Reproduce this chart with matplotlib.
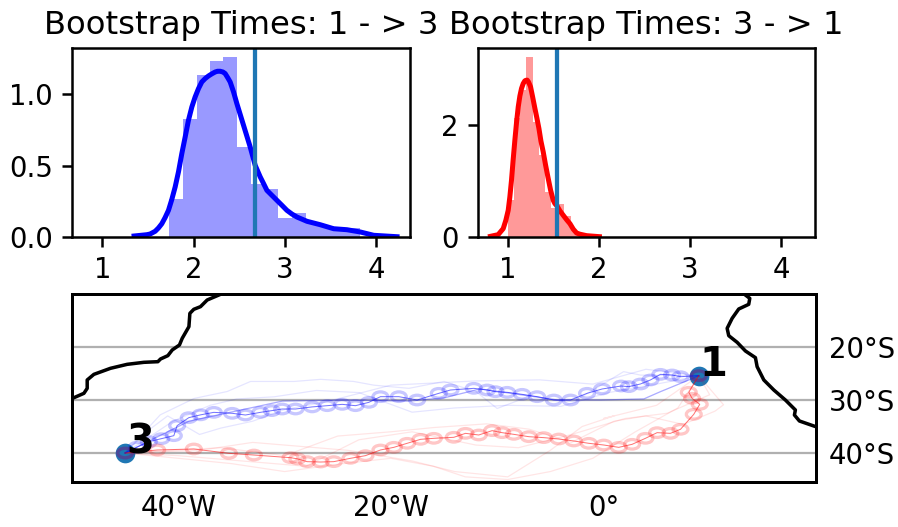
import matplotlib
matplotlib.use('Agg')
import matplotlib.pyplot as plt
from matplotlib.patches import Ellipse
import numpy as np

W, H, DPI = 898, 527, 180

# histogram 1 -> 3
edges_a = [1.731, 1.881, 2.032, 2.176, 2.326, 2.476, 2.626, 2.776, 2.929, 3.079, 3.233, 3.379, 3.533, 3.676, 3.826]
heights_a = [0.264, 0.83, 1.133, 1.231, 1.26, 0.628, 0.369, 0.334, 0.131, 0.166, 0.10, 0.075, 0.062, 0.062]
kde_a_x = [1.347, 1.486, 1.523, 1.578, 1.614, 1.651, 1.687, 1.724, 1.760, 1.797, 1.834, 1.870, 1.907, 1.943, 1.980, 2.016,
           2.053, 2.089, 2.126, 2.162, 2.199, 2.236, 2.261, 2.290, 2.320, 2.345, 2.374, 2.400, 2.437, 2.473,
           2.546, 2.619, 2.674, 2.729, 2.766, 2.802, 2.912, 2.967, 3.021, 3.076, 3.131, 3.241, 3.387, 3.533, 3.679, 3.826, 3.972, 4.228]
kde_a_y = [.007, .016, .021, .040, .063, .093, .136, .187, .262, .350, .458, .584, .701, .818, .911, .981,
           1.04, 1.086, 1.110, 1.128, 1.143, 1.156, 1.161, 1.161, 1.156, 1.145, 1.115, 1.086, 1.016, .935,
           .783, .631, .502, .421, .374, .327, .257, .222, .187, .161, .140, .110, .086, .058, .051, .035, .012, .002]
vline_a = 2.671

# histogram 3 -> 1
edges_b = [1.000, 1.066, 1.132, 1.198, 1.271, 1.341, 1.410, 1.476, 1.549, 1.615, 1.688, 1.754, 1.828]
heights_b = [0.659, 2.13, 2.63, 3.23, 2.07, 1.47, 0.80, 0.52, 0.587, 0.37, 0.12, 0.05]
kde_b_x = [.809, .894, .949, .978, 1.004, 1.022, 1.040, 1.058, 1.077, 1.095, 1.114, 1.132, 1.150, 1.168, 1.187, 1.198, 1.212,
           1.227, 1.249, 1.271, 1.297, 1.319, 1.341, 1.363, 1.388, 1.414, 1.443, 1.469,
           1.498, 1.516, 1.542, 1.571, 1.608, 1.645, 1.681, 1.718, 1.754, 1.791, 1.864, 2.004]
kde_b_y = [.012, .042, .150, .30, .479, .72, 1.018, 1.38, 1.737, 2.05, 2.335, 2.53, 2.665, 2.75, 2.802, 2.81, 2.814,
           2.78, 2.695, 2.52, 2.305, 2.13, 1.946, 1.72, 1.527, 1.29, 1.048, .84,
           .659, .60, .551, .47, .389, .31, .240, .14, .072, .05, .024, .006]
vline_b = 1.538

# coastlines
sa_lon = [-49.95, -48.88, -48.57, -48.57, -47.94, -46.38, -44.81, -43.24, -41.92, -41.67, -40.98, -40.57, -39.89, -39.63,
          -39.0, -38.91, -38.54, -37.91, -37.28, -36.03]
sa_lat = [-29.68, -28.74, -27.80, -26.22, -25.16, -24.02, -23.27, -22.89, -22.77, -22.26, -21.63, -20.56, -19.62, -18.36,
          -16.16, -13.65, -12.89, -12.39, -11.13, -10.06]
af_lon = [13.27, 13.77, 13.67, 12.73, 12.11, 11.64, 11.79, 12.58, 13.36, 14.30, 14.46, 15.09, 16.03, 17.12, 18.06, 17.97,
          18.44, 19.79]
af_lat = [-10.06, -10.82, -11.95, -12.83, -14.59, -16.48, -17.86, -19.12, -20.75, -22.01, -23.71, -26.22, -28.11, -30.0,
          -31.88, -32.83, -33.96, -34.9]

# end points
site_lon = [8.97, -45.0]
site_lat = [-25.45, -40.0]
site_names = ['1', '3']

# main tracks
blue_lon = [8.97, 7.25, 6.46, 5.36, 4.42, 3.48, 2.39, 1.66, -0.12, -1.54, -3.10, -4.67, -6.24, -7.65, -9.06, -10.16,
            -10.94, -12.20, -14.39, -15.49, -17.53, -19.25, -20.98, -22.07, -23.33, -24.58, -25.99, -27.4, -28.97, -30.23,
            -31.2, -32.27, -33.68, -34.93, -36.66, -37.9, -39.01, -40.11, -40.42, -41.6, -42.77, -43.9, -45.0]
blue_lat = [-25.41, -25.6, -25.28, -25.16, -26.22, -26.98, -27.48, -27.36, -27.92, -28.74, -30.0, -30.0, -29.37, -28.93,
            -28.55, -28.43, -28.11, -27.80, -28.11, -28.74, -30.0, -29.37, -29.37, -30.44, -31.07, -30.82, -31.07, -31.3,
            -31.70, -31.70, -32.0, -32.33, -32.83, -32.51, -32.33, -32.8, -33.33, -34.84, -36.73, -37.3, -37.86, -38.9, -40.0]
red_lon = [8.97, 8.03, 8.34, 9.06, 8.50, 7.25, 6.30, 5.05, 3.95, 2.70, 1.44, 0.03, -1.38, -2.79, -4.2, -5.61, -7.02,
           -8.43, -9.53, -10.47, -11.73, -12.98, -14.08, -15.96, -17.21, -18.47, -19.72, -20.98, -22.39, -23.8,
           -25.37, -26.6, -27.88, -28.8, -29.44, -32.89, -35.24, -38.54, -41.99, -45.0]
red_lat = [-25.41, -28.55, -29.68, -30.82, -32.70, -35.53, -36.29, -36.16, -37.23, -38.36, -38.93, -38.49, -38.17,
           -37.73, -37.36, -37.1, -36.92, -36.48, -36.16, -35.78, -36.6, -36.29, -37.04, -37.23, -37.42, -38.17,
           -38.93, -39.43, -40.5, -41.0, -41.63, -41.7, -41.63, -41.1, -40.88, -40.38, -40.06, -39.24, -39.43, -40.0]

# fainter bootstrap tracks
blue_extra = [
    ([8.97, 5.36, 3.8, -0.28, -4.3, -7.8, -11.6, -15.0, -18.3, -24.0, -30.2, -39.0, -41.0, -45.0],
     [-25.45, -28.43, -29.8, -30.0, -30.0, -29.0, -27.9, -29.6, -30.2, -30.0, -30.2, -34.0, -36.0, -40.0]),
    ([8.97, 3.5, 1.9, -2.8, -7.5, -10.0, -12.0, -15.0, -18.3, -21.6, -23.5, -26.6, -29.1, -33.2, -35.4, -38.5, -41.7, -45.0],
     [-25.45, -25.3, -24.65, -30.3, -29.7, -31.6, -28.4, -26.5, -27.8, -27.2, -26.5, -26.1, -26.5, -26.5, -28.4, -29.7, -32.8, -40.0]),
    ([8.97, 5.0, 0.5, -4.0, -9.0, -14.0, -18.0, -23.0, -27.0, -31.0, -34.5, -37.0, -40.5, -45.0],
     [-25.45, -27.0, -28.6, -31.2, -31.0, -31.5, -32.3, -28.6, -28.2, -29.4, -29.8, -31.0, -34.0, -40.0]),
    ([8.97, 4.0, -1.0, -6.0, -12.0, -20.0, -26.0, -30.0, -33.0, -36.0, -38.0, -41.0, -43.0, -45.0],
     [-25.45, -24.2, -27.0, -26.2, -26.4, -27.2, -30.3, -31.8, -34.0, -35.3, -36.5, -33.0, -36.0, -40.0]),
]
red_extra = [
    ([8.97, 11.3, 10.5, 7.5, 4.0, 1.0, -3.0, -7.0, -11.0, -16.0, -20.0, -25.0, -30.0, -36.0, -45.0],
     [-25.45, -30.9, -32.1, -34.6, -33.0, -34.0, -38.0, -35.5, -34.5, -35.2, -36.0, -36.8, -40.5, -39.0, -40.0]),
    ([8.97, 5.0, 0.0, 1.0, -2.0, -5.0, -9.0, -14.0, -18.0, -24.0, -27.0, -33.0, -38.0, -45.0],
     [-25.45, -31.0, -33.5, -33.0, -35.0, -39.5, -44.5, -43.5, -41.5, -39.5, -39.0, -38.0, -39.5, -40.0]),
    ([8.97, 7.0, 3.0, -1.0, -5.0, -9.0, -13.0, -16.0, -20.0, -24.5, -30.0, -35.0, -40.0, -45.0],
     [-25.45, -31.5, -36.0, -41.0, -43.5, -45.0, -44.5, -42.5, -41.0, -42.0, -43.5, -42.0, -41.0, -40.0]),
    ([8.97, 10.0, 6.0, 2.0, -3.0, -8.0, -12.0, -18.0, -23.0, -28.0, -34.0, -40.0, -45.0],
     [-25.45, -29.0, -32.5, -33.5, -36.5, -39.0, -38.5, -36.0, -37.5, -42.5, -41.5, -40.5, -40.0]),
]

grid_lats = [-20, -30, -40]
lon_ticks = [-40, -20, 0]
lon_labels = ['40°W', '20°W', '0°']
lat_labels = ['20°S', '30°S', '40°S']

plt.rcParams['axes.linewidth'] = 1.0
plt.rcParams['xtick.major.width'] = 1.0
plt.rcParams['ytick.major.width'] = 1.0
plt.rcParams['xtick.major.size'] = 4
plt.rcParams['ytick.major.size'] = 4


def px_axes(fig, left, top, right, bottom):
    return fig.add_axes([left / W, 1 - bottom / H, (right - left) / W, (bottom - top) / H])


def draw_dist(ax, edges, heights, kx, ky, vline, color, title):
    edges = np.array(edges)
    ax.bar(edges[:-1], heights, np.diff(edges), align='edge', color=color, alpha=0.4, linewidth=0)
    ax.plot(kx, ky, color=color, lw=2.0, solid_joinstyle='round')
    ax.axvline(vline, color='C0', lw=1.7)
    ax.set_xlim(0.667, 4.37)
    ax.set_xticks([1, 2, 3, 4])
    ax.tick_params(labelsize=11)
    ax.set_title(title, fontsize=12.9, pad=5.5)


def draw_track(ax, lon, lat, color):
    for x, y in zip(lon, lat):
        ax.add_patch(Ellipse((x, y), 1.4, 1.8, fill=False, edgecolor=color, alpha=0.22, lw=1.3, zorder=3))
    ax.plot(lon, lat, color=color, lw=0.4, alpha=0.55, zorder=4)


fig = plt.figure(figsize=(W / DPI, H / DPI), dpi=DPI)

ax1 = px_axes(fig, 72, 48, 410, 237)
draw_dist(ax1, edges_a, heights_a, kde_a_x, kde_a_y, vline_a, 'blue', 'Bootstrap Times: 1 - > 3')
ax1.set_ylim(0, 1.324)
ax1.set_yticks([0, 0.5, 1.0])

ax2 = px_axes(fig, 477.5, 48, 815, 237)
draw_dist(ax2, edges_b, heights_b, kde_b_x, kde_b_y, vline_b, 'red', 'Bootstrap Times: 3 - > 1')
ax2.set_ylim(0, 3.39)
ax2.set_yticks([0, 2])

ax3 = px_axes(fig, 72, 294, 816, 482)
ax3.set_xlim(-50, 20)
ax3.set_ylim(-45.47, -10)
for s in ax3.spines.values():
    s.set_linewidth(1.2)

for lat in grid_lats:
    ax3.axhline(lat, color='#b0b0b0', lw=0.9, zorder=2)

ax3.plot(sa_lon, sa_lat, color='k', lw=1.4, zorder=2)
ax3.plot(af_lon, af_lat, color='k', lw=1.4, zorder=2)

ax3.scatter(site_lon, site_lat, s=62, color='C0', zorder=2.5, linewidths=0)

for lon, lat in blue_extra:
    ax3.plot(lon, lat, color='blue', lw=0.5, alpha=0.1, zorder=3)
ax3.plot(blue_extra[0][0], blue_extra[0][1], color='blue', lw=0.5, alpha=0.25, zorder=3)
for lon, lat in red_extra:
    ax3.plot(lon, lat, color='red', lw=0.5, alpha=0.1, zorder=3)

draw_track(ax3, blue_lon, blue_lat, 'blue')
draw_track(ax3, red_lon, red_lat, 'red')

for x, y, name in zip(site_lon, site_lat, site_names):
    ax3.text(x + 0.1, y, name, fontsize=16, fontweight='bold', color='k', zorder=6)

ax3.set_xticks(lon_ticks)
ax3.set_xticklabels(lon_labels)
ax3.yaxis.tick_right()
ax3.set_yticks(grid_lats)
ax3.set_yticklabels(lat_labels)
ax3.tick_params(axis='both', length=0, labelsize=11)
ax3.tick_params(axis='x', pad=5)
ax3.tick_params(axis='y', pad=5)

fig.savefig('out.png', dpi=DPI)
